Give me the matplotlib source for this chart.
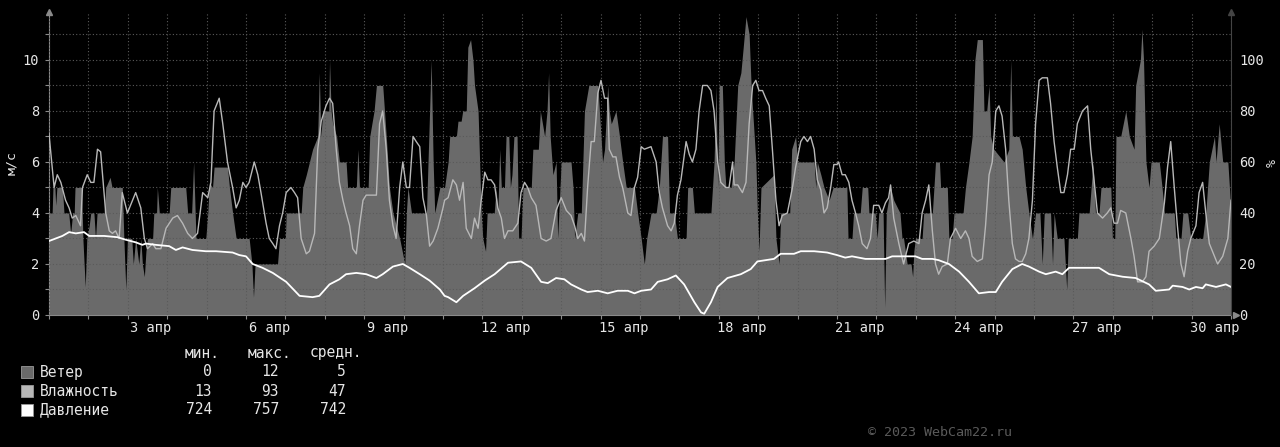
import numpy as np
import matplotlib
matplotlib.use("Agg")
import matplotlib.pyplot as plt
from matplotlib.ticker import MultipleLocator, FixedLocator

# ---------------- data ----------------
# time in days from left edge of the chart
wind_t = [0.00,0.08,0.10,0.15,0.17,0.20,0.34,0.38,0.50,0.55,0.60,0.64,0.66,0.83,0.86,0.92,0.96,1.02,1.06,1.14,1.18,1.22,1.40,1.44,1.55,1.60,1.86,1.90,1.95,1.99,2.10,2.14,2.20,2.28,2.33,2.37,2.42,2.46,2.50,2.63,2.66,2.73,2.75,2.80,3.05,3.09,3.47,3.52,3.62,3.67,3.71,3.73,3.98,4.03,4.07,4.15,4.19,4.53,4.58,4.66,4.75,4.92,5.08,5.15,5.19,5.23,5.80,5.85,6.00,6.02,6.40,6.44,6.53,6.61,6.69,6.82,6.86,6.90,6.95,7.10,7.12,7.16,7.20,7.30,7.37,7.54,7.58,7.80,7.84,7.88,8.10,8.14,8.25,8.31,8.47,8.56,8.64,8.73,8.90,9.03,9.07,9.11,9.20,9.58,9.62,9.70,9.75,9.79,9.92,
          10.04,10.13,10.17,10.34,10.38,10.46,10.50,10.59,10.63,10.70,10.76,10.80,10.89,10.93,10.97,11.01,11.08,11.12,11.30,11.35,11.39,11.44,11.48,11.56,11.60,11.67,11.71,11.75,11.80,11.88,11.92,11.98,12.03,12.24,12.28,12.42,12.47,12.58,12.64,12.68,12.72,12.79,12.87,12.91,12.97,13.00,13.25,13.30,13.34,13.42,13.51,13.59,13.70,13.93,13.97,14.05,14.10,14.18,14.22,14.27,14.39,14.48,14.56,14.65,14.86,14.94,15.03,15.11,15.17,15.28,15.41,15.49,15.57,15.70,15.75,15.87,15.95,16.12,16.17,16.21,16.33,16.38,16.80,16.88,16.93,16.97,17.01,17.09,17.14,17.18,17.31,17.39,17.48,17.56,17.62,17.69,17.77,17.82,17.86,17.94,17.98,18.02,18.07,18.40,18.45,18.53,18.57,18.80,18.85,18.95,19.00,19.42,19.46,19.50,19.59,19.67,19.80,19.90,
          20.04,20.25,20.28,20.38,20.42,20.59,20.64,20.78,20.81,20.97,21.02,21.06,21.17,21.21,21.25,21.36,21.44,21.60,21.65,21.69,21.78,21.88,21.92,21.95,21.99,22.16,22.20,22.42,22.50,22.60,22.63,22.80,22.84,22.92,22.97,23.20,23.26,23.35,23.43,23.50,23.56,23.69,23.73,23.80,23.86,23.90,23.98,24.24,24.36,24.41,24.45,24.62,24.70,24.79,24.87,24.96,25.04,25.15,25.21,25.26,25.42,25.47,25.51,25.59,25.76,25.83,25.87,26.10,26.14,26.40,26.50,26.56,26.65,26.70,26.95,26.99,27.05,27.08,27.20,27.33,27.42,27.54,27.58,27.70,27.74,27.78,27.84,27.92,27.97,28.18,28.25,28.31,28.56,28.60,28.73,28.78,28.90,28.98,29.28,29.36,29.45,29.58,29.62,29.70,29.79,29.92,30.00]
wind_v = [4,4,5,5,4.3,5,5,4,4,3.2,4,4,5,5,3,1.1,3,3.5,4,4,3,4,4,5,5.4,5,5,3,1.0,3,3,2,3,2,3,2,1.5,2.5,3,3,4,4,5,4,4,5,5,4,4,6,4,3,3,4,5.2,5,5.8,5.8,5,4,3,3,3,2,0.7,2,2,3,3,4,4,5,5.5,6,6.5,7,9.5,7,8,8,10,8,7.5,7,6,6,5,5,6.5,5,5,7,8,9,9,7,5,4,3,2,4,5,4,4,6,10,6,4,5,
          5,6,7,7,7.6,7.6,8,8,10.5,10.8,10,9,8,6,4,3,2.5,4,4,5,4,6.5,5,5,7,7,5,5.5,7,7,3,3,5,5,6.5,6.5,8,7,8,9.5,7,5.5,6,3,5,6,6,5,3,4,4,8,9,9,8,6,6.5,9,8,7.5,8,7,6,5,5,4,3,2,3,4,4,5,7,7,4,4,3,3,3,5,5,4,4,6,9,5,9,9,6,5,5,6,9,9.5,10.5,11.7,11,9,8,6,4,2.5,5,5.5,3,2,4,4,6.5,7,6,6,5,6,5.5,5,4.5,5,
          5,5,3,3,4,4,5,5,4,4,3,4,4,0.3,4,5,4.5,4,3,3,2,2,1.5,2.5,3,3,4,4,6,6,5,5,3,3,4,4,5,6,7,10,10.8,10.8,8,8,9,7,6.5,6,6.5,10,7,7,6.5,5,4,3,4,4,2,4,4,2,4,3,3,1,3,3,4,4,6,4,4,5,5,3,3,7,7,8,7,6.5,9,10,11.2,10,6,5,6,6,5,4,4,3,3,4,4,3,3,4,6,7,6,7.5,6,6,4]

hum_t = [0.00,0.13,0.21,0.30,0.42,0.51,0.59,0.68,0.80,0.85,0.97,1.06,1.14,1.23,1.31,1.44,1.53,1.61,1.69,1.78,1.86,1.99,2.12,2.20,2.33,2.42,2.50,2.63,2.71,2.84,2.97,3.14,3.26,3.39,3.52,3.64,3.77,3.90,4.03,4.11,4.19,4.32,4.41,4.53,4.66,4.75,4.83,4.92,5.00,5.08,5.21,5.30,5.38,5.51,5.59,5.68,5.76,5.85,5.93,6.02,6.14,6.23,6.31,6.40,6.53,6.61,6.74,6.82,6.91,7.03,7.12,7.20,7.29,7.37,7.46,7.54,7.63,7.71,7.80,7.88,7.97,8.05,8.18,8.31,8.39,8.47,8.56,8.64,8.73,8.81,8.90,8.98,9.07,9.15,9.24,9.32,9.41,9.49,9.58,9.66,9.75,9.87,10.00,
         10.04,10.13,10.25,10.34,10.42,10.51,10.59,10.72,10.80,10.89,10.97,11.06,11.14,11.22,11.31,11.39,11.48,11.56,11.65,11.77,11.90,11.98,12.07,12.15,12.24,12.36,12.49,12.62,12.74,12.87,13.00,13.13,13.25,13.34,13.42,13.51,13.59,13.67,13.76,13.84,13.93,14.01,14.10,14.18,14.22,14.31,14.39,14.48,14.56,14.69,14.77,14.86,14.94,15.03,15.11,15.28,15.41,15.49,15.57,15.70,15.79,15.87,15.95,16.04,16.17,16.25,16.33,16.42,16.50,16.59,16.71,16.80,16.88,16.97,17.05,17.18,17.26,17.35,17.39,17.48,17.60,17.69,17.77,17.86,17.94,18.02,18.11,18.19,18.28,18.36,18.45,18.53,18.61,18.74,18.87,18.95,19.08,19.16,19.25,19.33,19.42,19.50,19.59,19.67,19.75,19.84,19.92,20.00,
         20.04,20.13,20.21,20.30,20.38,20.47,20.55,20.64,20.76,20.85,20.93,21.06,21.14,21.23,21.31,21.36,21.44,21.57,21.69,21.82,21.95,22.08,22.16,22.25,22.33,22.42,22.50,22.58,22.67,22.80,22.88,23.01,23.14,23.26,23.35,23.43,23.56,23.69,23.77,23.86,23.94,24.03,24.11,24.19,24.28,24.36,24.45,24.53,24.62,24.70,24.79,24.87,24.96,25.04,25.13,25.21,25.34,25.42,25.51,25.59,25.68,25.76,25.85,25.93,26.02,26.10,26.23,26.36,26.44,26.53,26.61,26.74,26.86,26.95,27.03,27.12,27.20,27.33,27.46,27.54,27.63,27.75,27.84,27.92,28.05,28.18,28.31,28.39,28.47,28.56,28.64,28.73,28.81,28.90,28.98,29.11,29.19,29.28,29.36,29.45,29.58,29.66,29.79,29.92,30.00]
hum_v = [71,50,55,52,45,42,38,39,35,50,55,52,52,65,64,40,33,32,33,30,48,40,45,48,42,30,26,28,26,26,34,38,39,36,32,30,32,48,46,52,80,85,75,60,50,42,45,52,50,52,60,55,48,36,30,28,26,35,40,48,50,48,46,30,24,25,32,65,76,82,85,83,65,52,45,40,35,26,24,35,45,47,47,47,75,80,65,45,35,30,50,60,50,50,70,68,66,46,39,27,29,34,42,
         45,46,53,51,45,52,34,30,38,34,45,56,53,53,51,42,38,30,33,33,36,48,52,50,46,43,30,29,30,41,46,41,39,35,30,32,29,50,68,68,87,92,85,85,65,62,62,54,50,40,39,50,54,66,65,66,60,48,42,35,33,36,47,53,68,63,60,65,80,90,90,88,80,60,52,50,50,60,51,51,48,52,75,90,92,88,88,85,82,65,45,35,39,40,50,58,68,70,68,70,65,53,49,40,42,50,59,59,
         60,55,55,52,45,40,35,28,26,30,43,43,40,44,46,51,38,28,20,28,29,28,40,45,51,33,20,16,19,20,30,34,30,33,30,23,21,22,35,55,60,80,82,78,65,45,28,22,21,21,24,30,45,75,92,93,93,83,68,58,48,48,55,65,65,75,80,82,65,52,40,38,40,42,36,36,41,40,30,23,13,13,15,25,27,30,44,58,68,50,35,20,15,25,30,35,48,52,40,28,23,20,23,30,45]

pres_t = [0.00,0.17,0.34,0.51,0.68,0.89,1.02,1.40,1.74,1.95,2.20,2.37,2.46,2.71,3.05,3.22,3.39,3.64,3.98,4.24,4.66,4.83,5.00,5.17,5.42,5.68,6.02,6.36,6.69,6.86,7.12,7.37,7.54,7.80,8.05,8.31,8.47,8.73,8.98,9.15,9.41,9.66,9.92,10.04,
          10.13,10.34,10.51,10.80,11.06,11.31,11.65,11.98,12.24,12.49,12.66,12.87,13.08,13.25,13.51,13.67,13.93,14.18,14.43,14.69,14.86,15.03,15.28,15.45,15.70,15.91,16.12,16.38,16.55,16.63,16.80,16.97,17.22,17.56,17.81,17.98,18.40,18.57,18.91,19.08,19.42,19.75,20.00,
          20.21,20.38,20.72,21.23,21.40,21.99,22.16,22.42,22.58,22.84,23.10,23.35,23.60,23.86,24.03,24.19,24.45,24.70,24.87,25.13,25.30,25.55,25.72,25.89,26.40,26.65,26.91,27.25,27.58,27.92,28.09,28.43,28.52,28.77,28.94,29.11,29.28,29.36,29.62,29.87,30.00]
pres_v = [753,754,755,756.5,756,756.5,755,755,754.5,753.5,752.5,751.5,752,751.5,751,749.5,750.5,749.5,749,749,748.5,747.5,747,744,742.5,740.5,737,731.5,731,731.5,736,738,740,740.5,740,738.5,740,743,744,742.5,740,737.5,734,731.5,
          731,729,731.5,734.5,737.5,740,744.5,745,742.5,737,736.5,738.5,738,736,734,733,733.5,732.5,733.5,733.5,732.5,733.5,734,737,738,739.5,736,729,725,724.5,729,735,738.5,740,742,745,746,748,748,749,749,748.5,747.5,
          746.5,747,746,746,747,747,746,746,745.5,744,741,737,732.5,733,733,737,742,744,743,741,740,741,740,742.5,742.5,742.5,740,739,738.5,736,733.5,734,735.5,735,734,735,734.5,736,735,736,735]

date_labels = ["3 апр", "6 апр", "9 апр", "12 апр", "15 апр",
               "18 апр", "21 апр", "24 апр", "27 апр", "30 апр"]
label_days = [3, 6, 9, 12, 15, 18, 21, 24, 27, 30]

legend_names = ["Ветер", "Влажность", "Давление"]
legend_min = ["0", "13", "724"]
legend_max = ["12", "93", "757"]
legend_avg = ["5", "47", "742"]
legend_headers = ["мин.", "макс.", "средн."]

# ---------------- style ----------------
BG = "#000000"
WIND_C = "#6a6a6a"
HUM_C = "#b8b8b8"
PRES_C = "#ffffff"
TXT = "#e6e6e6"
GRID_C = "#5a5a5a"
AXIS_C = "#8a8a8a"
MONO = "DejaVu Sans Mono"

plt.rcParams["font.family"] = [MONO, "DejaVu Sans"]

fig = plt.figure(figsize=(12.8, 4.47), dpi=100, facecolor=BG)
L, R = 49 / 1280, 1231 / 1280
B, T = (447 - 315) / 447, (447 - 11.5) / 447
ax = fig.add_axes([L, B, R - L, T - B], facecolor=BG)

YMAX = 11.9
ax.set_xlim(0, 30)
ax.set_ylim(0, YMAX)

wt = np.array(wind_t); wv = np.array(wind_v)
ax.fill_between(wt, 0, wv, color=WIND_C, linewidth=0, zorder=2)
ax.plot(np.array(hum_t), np.array(hum_v) / 10.0, color=HUM_C, lw=1.0, zorder=3)
ax.plot(np.array(pres_t), (np.array(pres_v) - 724) / 10.0, color=PRES_C, lw=1.3, zorder=4)

# ticks & grid
ax.xaxis.set_minor_locator(MultipleLocator(1))
ax.xaxis.set_major_locator(FixedLocator([d - 0.41 for d in label_days]))
ax.set_xticklabels(date_labels)
ax.tick_params(axis="x", which="major", length=0, pad=4, labelsize=9.8, labelcolor=TXT)
ax.tick_params(axis="x", which="minor", length=3, color=AXIS_C, width=0.8)
ax.yaxis.set_major_locator(MultipleLocator(2))
ax.yaxis.set_minor_locator(MultipleLocator(1))
ax.tick_params(axis="y", which="both", length=3, color=AXIS_C, width=0.8,
               labelsize=9.8, labelcolor=TXT, pad=4)
ax.set_yticks(np.arange(0, 11, 2))
ax.grid(True, which="minor", axis="x", color=GRID_C, linestyle=(0, (1, 2)), lw=0.8, zorder=5)
ax.grid(True, which="both", axis="y", color=GRID_C, linestyle=(0, (1, 2)), lw=0.8, zorder=5)
ax.set_axisbelow(False)

for s in ["left", "bottom"]:
    ax.spines[s].set_color(AXIS_C)
    ax.spines[s].set_linewidth(0.8)
ax.spines["top"].set_visible(False)
ax.spines["right"].set_visible(False)

ax2 = ax.twinx()
ax2.set_ylim(0, YMAX * 10)
ax2.set_yticks(np.arange(0, 101, 20))
ax2.tick_params(axis="y", length=0, labelsize=9.8, labelcolor=TXT, pad=6)
for s in ["left", "bottom", "top"]:
    ax2.spines[s].set_visible(False)
ax2.spines["right"].set_color("#444444")
ax2.spines["right"].set_linewidth(0.8)

def fy(py):
    return 1 - py / 447
def fx(px):
    return px / 1280

# axis titles
fig.text(fx(12), fy(163), "м/с", color=TXT, fontsize=9.5, rotation=90,
         ha="center", va="center", family=MONO)
fig.text(fx(1272), fy(163), "%", color=TXT, fontsize=9.5, rotation=90,
         ha="center", va="center", family=MONO)

# arrows at axis ends
ax.plot([0], [1], marker="^", ms=5, color=AXIS_C, transform=ax.transAxes, clip_on=False, zorder=6)
ax.plot([1], [1], marker="^", ms=5, color="#444444", transform=ax.transAxes, clip_on=False, zorder=6)
ax.plot([1.004], [0], marker=">", ms=5, color=AXIS_C, transform=ax.transAxes, clip_on=False, zorder=6)

# legend
hdr_x = [220, 291, 362]
for h, x in zip(legend_headers, hdr_x):
    fig.text(fx(x), fy(353), h, color=TXT, fontsize=10.5, ha="right", va="center", family=MONO)
box_cols = [WIND_C, HUM_C, PRES_C]
val_x = [212, 279, 346]
for i, name in enumerate(legend_names):
    y = 372 + i * 19
    fig.patches.append(plt.Rectangle((fx(21), fy(y + 6)), 12 / 1280, 12 / 447,
                                     transform=fig.transFigure, facecolor=box_cols[i],
                                     edgecolor="#9a9a9a", lw=0.6))
    fig.text(fx(40), fy(y), name, color=TXT, fontsize=10.5, ha="left", va="center", family=MONO)
    for vals, x in zip([legend_min, legend_max, legend_avg], val_x):
        fig.text(fx(x), fy(y), vals[i], color=TXT, fontsize=10.5, ha="right", va="center", family=MONO)

fig.text(fx(868), fy(433), "© 2023 WebCam22.ru", color="#5a5a5a", fontsize=9.6,
         ha="left", va="center", family=MONO)

fig.savefig("out.png", dpi=100, facecolor=BG)
